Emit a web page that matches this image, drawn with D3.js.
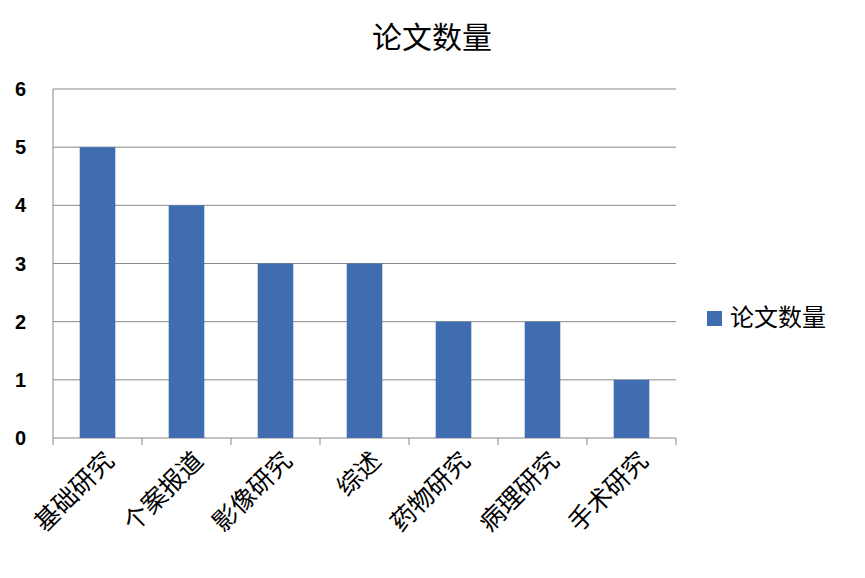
<!DOCTYPE html>
<html><head><meta charset="utf-8">
<script src="https://cdn.jsdelivr.net/npm/d3@7"></script>
<style>body{margin:0;background:#fff;font-family:"Noto Sans CJK SC","Noto Sans",sans-serif;}</style>
</head><body>
<svg id="chart" width="865" height="578"></svg>
<script>
const categories = ["基础研究", "个案报道", "影像研究", "综述", "药物研究", "病理研究", "手术研究"];
const values = [5, 4, 3, 3, 2, 2, 1];
const yTicks = [0, 1, 2, 3, 4, 5, 6];
const seriesName = "论文数量";

const svg = d3.select("#chart");
const plotLeft = 53, plotRight = 676, plotTop = 89, plotBottom = 438;

const x = d3.scaleBand().domain(categories).range([plotLeft, plotRight]).paddingInner(0.6).paddingOuter(0.3);
const xEdge = d3.scaleBand().domain(categories).range([plotLeft, plotRight]);
const y = d3.scaleLinear().domain([0, 6]).range([plotBottom, plotTop]);

// gridlines
svg.append("g").selectAll("line").data(yTicks).enter().append("line")
  .attr("x1", plotLeft).attr("x2", plotRight)
  .attr("y1", d => y(d)).attr("y2", d => y(d))
  .attr("stroke", "#888").attr("stroke-width", 1);

// y axis line
svg.append("line").attr("x1", plotLeft).attr("x2", plotLeft).attr("y1", plotTop).attr("y2", plotBottom)
  .attr("stroke", "#888");

// y tick labels
svg.append("g").selectAll("text").data(yTicks).enter().append("text")
  .attr("x", 26).attr("y", d => y(d)).attr("dy", "0.35em")
  .attr("text-anchor", "end").attr("font-size", 20).attr("font-weight", "bold")
  .attr("font-family", "Liberation Sans, sans-serif")
  .text(d => d);

// x ticks at category boundaries
const edges = categories.map(c => xEdge(c)).concat([plotRight]);
svg.append("g").selectAll("line").data(edges).enter().append("line")
  .attr("x1", d => d).attr("x2", d => d).attr("y1", plotBottom).attr("y2", plotBottom + 7)
  .attr("stroke", "#888");

// bars
svg.append("g").selectAll("rect").data(values).enter().append("rect")
  .attr("x", (d, i) => x(categories[i]))
  .attr("width", x.bandwidth())
  .attr("y", d => y(d))
  .attr("height", d => y(0) - y(d))
  .attr("fill", "#3f6db0");

// x labels rotated
svg.append("g").selectAll("text").data(categories).enter().append("text")
  .attr("transform", d => `translate(${x(d) + x.bandwidth() / 2 + 12},${plotBottom + 18}) rotate(-45)`)
  .attr("text-anchor", "end").attr("dy", "0.35em")
  .attr("font-size", 25).attr("fill", "#000")
  .text(d => d);

// title
svg.append("text").attr("x", 432).attr("y", 48).attr("text-anchor", "middle")
  .attr("font-size", 30).text(seriesName);

// legend
svg.append("rect").attr("x", 707).attr("y", 311).attr("width", 15).attr("height", 15).attr("fill", "#3f6db0");
svg.append("text").attr("x", 730).attr("y", 318).attr("dy", "0.35em")
  .attr("font-size", 24).text(seriesName);
</script>
</body></html>
